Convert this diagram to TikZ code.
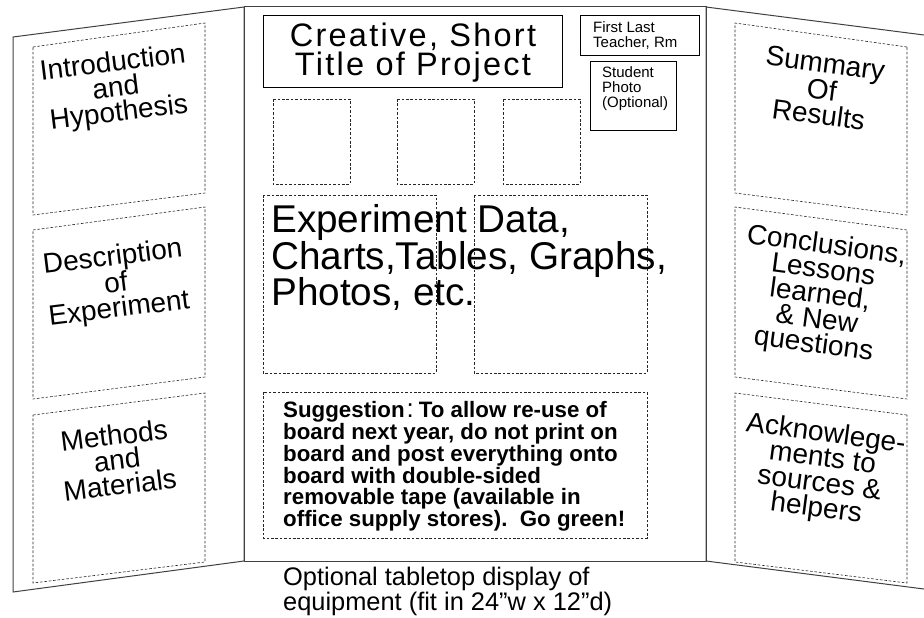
\documentclass[tikz,border=0pt]{standalone}
\usepackage{fontspec}
\setmainfont{Liberation Sans}
\newfontfamily\titlefont[LetterSpace=7]{Liberation Sans}
\begin{document}
\begin{tikzpicture}[x=1pt,y=-1pt,
  panel/.style={draw=black!75, line width=1pt},
  slot/.style={draw=black!85, line width=0.6pt, dash pattern=on 2.6pt off 1.8pt},
  frame/.style={draw=black, line width=0.8pt},
  sidelbl/.style={align=center, inner sep=0pt, font=\fontsize{28}{25}\selectfont},
  plain/.style={align=left, inner sep=0pt, anchor=north west},
]
\useasboundingbox (0,0) rectangle (924,618);

% the three panels of the board
\draw[panel] (13,37) -- (244,7) -- (244,561) -- (13,592) -- cycle;
\draw[panel] (244,7) rectangle (706,561);
\draw[panel] (924,35) -- (706,7) -- (706,561) -- (924,589);

% left wing: dashed slots and labels
\draw[slot] (33,47) -- (205,23) -- (205,193) -- (33,215) -- cycle;
\draw[slot] (33,230) -- (205,207) -- (205,377) -- (33,399) -- cycle;
\draw[slot] (33,415) -- (205,393) -- (205,562) -- (33,583) -- cycle;
\node[sidelbl, rotate=7] (intro) at (116,89) {Introduction\\and\\Hypothesis};
\node[sidelbl, rotate=7] (descr) at (116,284) {Description\\of\\Experiment};
\node[sidelbl, rotate=7] (meth) at (117,460) {Methods\\and\\Materials};

% right wing: dashed slots and labels
\draw[slot] (907,47) -- (735,23) -- (735,193) -- (907,215) -- cycle;
\draw[slot] (907,230) -- (735,207) -- (735,377) -- (907,399) -- cycle;
\draw[slot] (907,415) -- (735,393) -- (735,562) -- (907,583) -- cycle;
\node[sidelbl, rotate=-7.5] (summ) at (822,89) {Summary\\Of\\Results};
\node[sidelbl, rotate=-7.5] (concl) at (820,296) {Conclusions,\\Lessons\\learned,\\\& New\\questions};
\node[sidelbl, rotate=-7.5] (ack) at (821,472) {Acknowlege-\\ments to\\sources \&\\helpers};

% centre panel: title and name tags
\draw[frame] (263,15) rectangle (562,87);
\node[align=center, inner sep=0pt, anchor=north, font=\titlefont\fontsize{32.5}{29}\selectfont] (title) at (413,22.4) {Creative, Short\\Title of Project};
\draw[frame, line width=0.6pt] (580,15) rectangle (699,55);
\node[plain, font=\fontsize{15}{15}\selectfont] (name) at (593,21) {First Last\\Teacher, Rm};
\draw[frame, line width=0.6pt] (590,61.5) rectangle (676,130);
\node[plain, font=\fontsize{15}{15}\selectfont] (photo) at (602,66) {Student\\Photo\\(Optional)};

% picture slots
\draw[slot] (273,99) rectangle (350,184);
\draw[slot] (397,99) rectangle (474,184);
\draw[slot] (503,99) rectangle (580,184);
\draw[slot] (263,195) rectangle (436,373);
\draw[slot] (474,195) rectangle (647,373);
\node[plain, font=\fontsize{38.7}{36.5}\selectfont] (data) at (271,204.5) {Experiment Data,\\Charts,Tables, Graphs,\\Photos, etc.};

% suggestion note
\draw[slot] (263,392) rectangle (647,538);
\node[plain, font=\bfseries\fontsize{22.3}{21.9}\selectfont] (tip) at (283,401)
  {Suggestion\hspace{2pt}{\mdseries\fontsize{26}{26}\selectfont:}\hspace{5pt}To allow re-use of\\board next year, do not print on\\board and post everything onto\\board with double-sided\\removable tape (available in\\office supply stores).\ \ Go green!};

% caption under the board
\node[plain, font=\fontsize{25.4}{25}\selectfont] (table) at (283,567)
  {Optional tabletop display of\\equipment (fit in 24”w x 12”d)};
\end{tikzpicture}
\end{document}
